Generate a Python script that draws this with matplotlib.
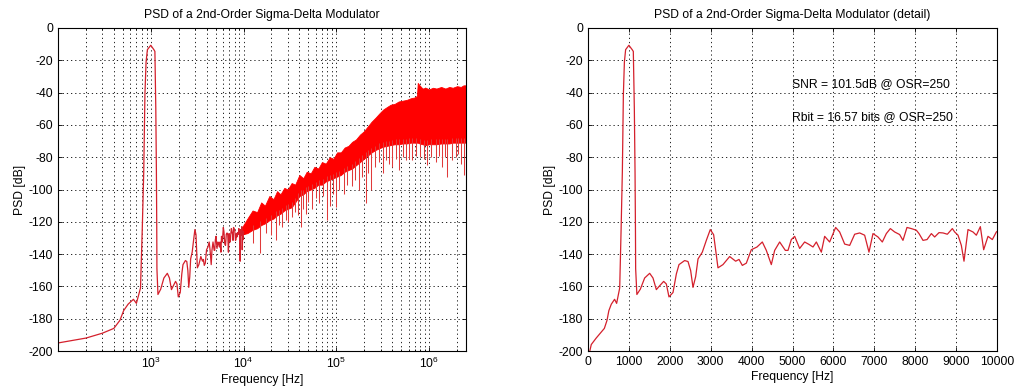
import numpy as np
import matplotlib
matplotlib.use("Agg")
import matplotlib.pyplot as plt

plt.rcParams['font.family'] = ['Liberation Sans', 'DejaVu Sans']
plt.rcParams['mathtext.default'] = 'regular'
plt.rcParams['axes.unicode_minus'] = False

# ---- in-band spectrum (0..10 kHz) ----
freq_inband = [0, 80, 200, 300, 400, 465, 510, 570, 650, 700, 775, 810, 840, 865, 890,
               920, 1000, 1080, 1108, 1133, 1150, 1160, 1165, 1195, 1280, 1385, 1508, 1589,
               1671, 1752, 1850, 1915, 1980, 2078, 2160, 2225, 2363, 2445, 2510, 2567, 2632,
               2690, 2795, 2893, 2990, 3072, 3178, 3300, 3464, 3610, 3692, 3773, 3871, 3993,
               4132, 4262, 4360, 4482, 4564, 4686, 4825, 4890, 4971, 5053, 5175, 5297, 5403,
               5501, 5583, 5705, 5786, 5908, 6055, 6153, 6276, 6398, 6520, 6642, 6764, 6870,
               6968, 7090, 7196, 7294, 7392, 7498, 7620, 7701, 7799, 7905, 8028, 8093, 8191,
               8289, 8395, 8476, 8582, 8680, 8786, 8908, 8965, 9047, 9128, 9193, 9291, 9413,
               9495, 9593, 9674, 9780, 9886, 9984, 10000]
psd_inband = [-205, -196, -192, -189, -186, -181, -175, -171, -168, -170.5, -161, -124, -89, -41, -21,
              -13.4, -10.7, -13.4, -14.5, -50, -89, -124, -149, -165, -161.7, -154.8, -151.9, -154.8,
              -162, -159.6, -156.9, -158.5, -166.5, -163.8, -152.3, -146.5, -144, -144.6, -150.2, -160.6, -154,
              -143, -138.8, -131.5, -124.8, -128, -148.5, -146.5, -141.5, -144.4, -143.3, -147, -145.6, -137.3,
              -135.6, -132.5, -137.7, -146.5, -137.7, -132.5, -137.7, -137.7, -131, -129, -136.5, -132.5, -134,
              -135.6, -132.5, -138.8, -129, -132.5, -123.5, -126.3, -133.8, -134.6, -127.7, -126.9, -128.3, -138.8,
              -127.3, -129.4, -132.5, -127.3, -124.2, -126.3, -127.9, -131.5, -123.5, -124.2, -125.2, -127.3, -131.5,
              -131, -127.3, -129.4, -126.7, -126.9, -127.7, -124.2, -126.3, -128.3, -134.6, -144.4, -124.8, -126.3,
              -128.3, -123, -137.3, -129, -131, -126.3, -126]

# ---- out-of-band shaped noise (dense band, envelopes) ----
band_freq = [9.5e3, 11e3, 12.5e3, 14e3, 15.5e3, 17e3, 19e3, 21e3, 23e3, 25e3, 27.5e3, 30e3,
             33e3, 36e3, 40e3, 44e3, 48e3, 53e3, 58e3, 64e3, 70e3, 77e3, 85e3, 93e3, 102e3,
             112e3, 123e3, 135e3, 148e3, 163e3, 180e3, 198e3, 218e3, 240e3, 265e3, 290e3,
             320e3, 350e3, 385e3, 425e3, 470e3, 520e3, 575e3, 635e3, 700e3, 740e3, 755e3,
             790e3, 850e3, 920e3, 1.0e6, 1.1e6, 1.2e6, 1.35e6, 1.5e6, 1.65e6, 1.8e6, 2.0e6,
             2.2e6, 2.35e6, 2.5e6]
band_top = [-124, -118, -113, -114, -108, -110, -104, -106, -101, -103, -99, -100,
            -96, -97, -91, -93, -89, -90, -86, -87, -83, -84, -80, -81, -77,
            -77, -74, -73, -70.5, -69, -66, -64, -61, -58, -55.5, -53,
            -50.5, -49, -47.5, -47, -45.5, -45, -44.5, -43.5, -43, -42, -34,
            -35.5, -37.5, -37, -38, -37, -37.5, -36.5, -37.5, -36.5, -37, -36,
            -36.5, -35.5, -35.5]
band_bottom = [-128, -127, -125, -124, -122, -121, -119, -118, -116, -115, -113, -112,
               -111, -108, -104, -103, -101, -100, -99, -97, -97, -95, -94, -93, -92,
               -91, -89, -88, -87, -85, -83, -81, -79, -77, -75.5, -74.5,
               -73.5, -73, -72.5, -72, -72, -71.5, -71.5, -71, -71, -71, -71,
               -71.5, -72, -72.5, -72, -72, -72, -71.5, -71.5, -71.5, -71, -71,
               -71, -71, -71]

spike_freq = [12.5e3, 15.1e3, 17.5e3, 19.8e3, 22.4e3, 24e3, 26e3, 28.5e3, 30e3, 33e3,
              36e3, 39e3, 41.7e3, 44e3, 47e3, 50e3, 55e3, 60e3, 65.6e3, 72e3,
              78.7e3, 85e3, 92e3, 99.3e3, 108e3, 120e3, 132e3, 148e3, 160e3, 175e3,
              190e3, 208e3, 222e3, 236e3, 260e3, 290e3, 320e3, 345e3, 371e3, 400e3,
              440e3, 475e3, 520e3, 560e3, 610e3, 660e3, 730e3, 800e3, 880e3, 960e3,
              1.05e6, 1.18e6, 1.28e6, 1.37e6, 1.47e6, 1.57e6, 1.75e6, 1.94e6, 2.05e6, 2.2e6,
              2.38e6, 2.48e6]
spike_psd = [-133, -139.5, -127, -128, -131, -122, -123, -119, -120, -117,
             -114, -116, -123, -112, -115, -108, -112, -105, -108.6, -104,
             -119, -110, -103, -111, -100, -103, -97, -98, -94, -100,
             -92, -108.6, -90, -100, -86, -83, -90, -82, -84, -86,
             -81, -88, -80, -82, -81, -82, -79, -80, -81, -85,
             -80, -83, -79, -86, -80, -92, -82, -80, -78, -84,
             -91, -88]

title_full = "PSD of a 2nd-Order Sigma-Delta Modulator"
title_detail = "PSD of a 2nd-Order Sigma-Delta Modulator (detail)"
snr_text = "SNR = 101.5dB @ OSR=250"
rbit_text = "Rbit = 16.57 bits @ OSR=250"

fs = 8.7
line_color = '#d4202c'
grid_style = dict(linestyle=(0, (1.5, 3.5)), color='black', lw=0.6)

fig = plt.figure(figsize=(10.16, 3.91), dpi=100)
ax1 = fig.add_axes([58/1016, 1-351/391, 408/1016, 323/391])
ax2 = fig.add_axes([588/1016, 1-351/391, 409/1016, 323/391])

# left: full spectrum on log axis
ax1.set_xscale('log')
ax1.plot(freq_inband, psd_inband, color=line_color, lw=0.9)
bf = np.array(band_freq)
ax1.fill_between(bf, band_bottom, band_top, color='#ff0000', lw=0.6, edgecolor='#ff0000')
sf = np.array(spike_freq)
spike_top = np.interp(np.log10(sf), np.log10(bf), band_bottom) + 3
ax1.vlines(sf, spike_psd, spike_top, color='#e03a3a', lw=0.75)
ax1.set_xlim(100, 2.5e6)
ax1.set_ylim(-200, 0)
ax1.set_yticks(np.arange(-200, 1, 20))
ax1.set_xticks([1e3, 1e4, 1e5, 1e6])
ax1.grid(True, which='both', **grid_style)

# right: in-band detail on linear axis
ax2.plot(freq_inband, psd_inband, color=line_color, lw=0.9)
ax2.set_xlim(0, 10000)
ax2.set_ylim(-200, 0)
ax2.set_xticks(np.arange(0, 10001, 1000))
ax2.set_yticks(np.arange(-200, 1, 20))
ax2.grid(True, which='major', **grid_style)
ax2.text(5000, -35, snr_text, fontsize=fs, va='center', ha='left')
ax2.text(5000, -55, rbit_text, fontsize=fs, va='center', ha='left')

for ax, t in [(ax1, title_full), (ax2, title_detail)]:
    ax.set_title(t, fontsize=fs, pad=7)
    ax.set_xlabel("Frequency [Hz]", fontsize=fs, labelpad=2)
    ax.set_ylabel("PSD [dB]", fontsize=fs, labelpad=2)
    ax.tick_params(which='both', direction='in', top=True, right=True, labelsize=fs, length=3, width=0.6)
    ax.tick_params(which='minor', length=1.5)
    for s in ax.spines.values():
        s.set_linewidth(0.8)
    ax.set_axisbelow(True)

fig.savefig("out.png", dpi=100)
